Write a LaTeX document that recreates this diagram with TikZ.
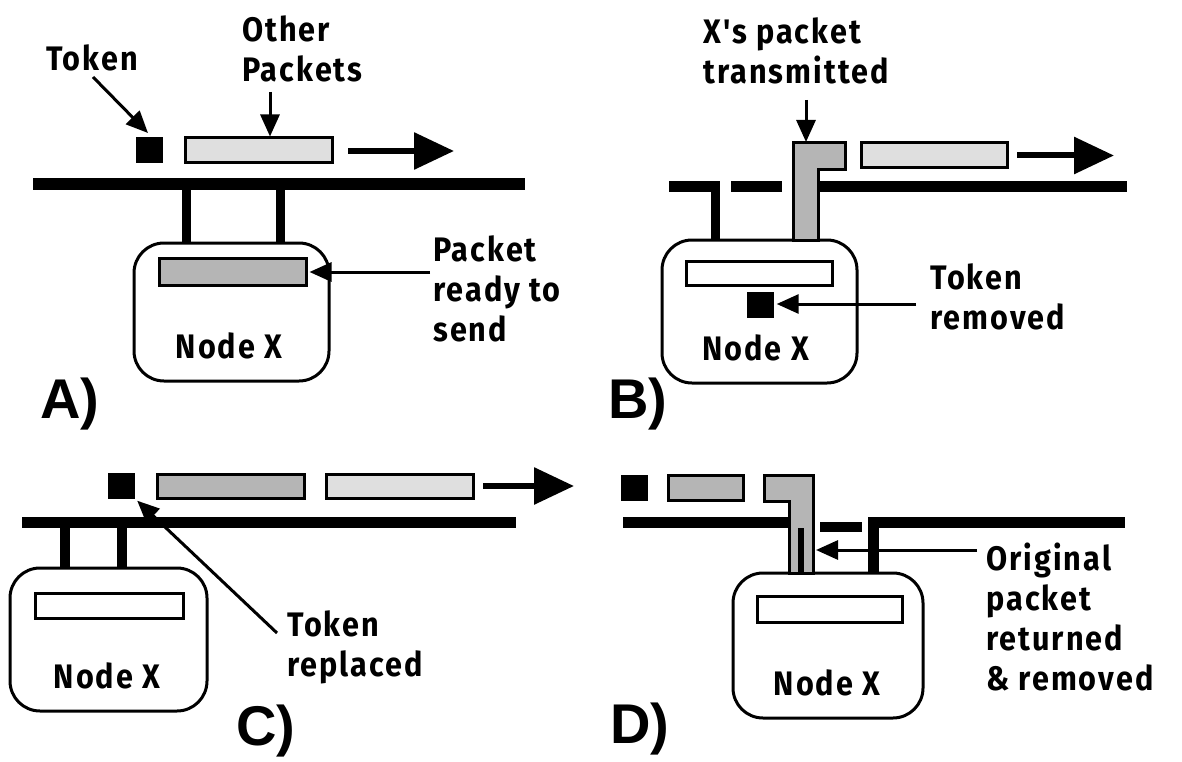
\documentclass[tikz,border=0pt]{standalone}
\usepackage{fontspec}
\newfontfamily\lblfont[FakeStretch=0.9,LetterSpace=6]{Fira Sans}
\newfontfamily\panelfont{Liberation Sans}
\usetikzlibrary{arrows.meta}
\tikzset{
  lbl/.style={inner sep=0pt, align=left, font=\lblfont\bfseries\fontsize{34}{40}\selectfont},
  panel/.style={inner sep=0pt, font=\panelfont\bfseries\fontsize{56}{60}\selectfont},
  nodebox/.style={draw, line width=3pt, rounded corners=30pt, inner sep=0pt},
  pktlight/.style={draw, line width=3pt, fill=gray!25, inner sep=0pt},
  pktdark/.style={draw, line width=3pt, fill=gray!58, inner sep=0pt},
  pktempty/.style={draw, line width=3pt, fill=white, inner sep=0pt},
  tokenbox/.style={fill=black, inner sep=0pt, minimum width=27pt, minimum height=26pt},
  moving/.style={line width=6pt, -{Triangle[length=40pt,width=36pt]}},
  callout/.style={line width=3pt, -{Triangle[length=22pt,width=19pt]}},
  wire/.style={fill=black},
}
\begin{document}
\begin{tikzpicture}[x=1pt,y=-1pt]
\useasboundingbox[fill=white] (0,0) rectangle (1182,762);

% ---------------- Panel A ----------------
\node[tokenbox] (tokA) at (149.5,150) {};
\node[pktlight, minimum width=147pt, minimum height=25pt] (othA) at (258.5,150.5) {};
\coordinate (movA0) at (348,151); \coordinate (movA1) at (454,151);
\draw[moving] (movA0) -- (movA1);
\fill[wire] (33,178) rectangle (525,190);
\fill[wire] (182,190) rectangle (191,244);
\fill[wire] (276,190) rectangle (285,244);
\node[nodebox, minimum width=195pt, minimum height=138pt] (boxA) at (231.5,312) {};
\node[pktdark, minimum width=147pt, minimum height=27pt] (xpA) at (232.5,271.5) {};
\node[lbl] (nlA) at (229,346) {Node X};
\node[lbl] (tlA) at (92,58) {Token};
\coordinate (tcA) at (93,77); \coordinate (ttA) at (148,133);
\draw[callout] (tcA) -- (ttA);
\node[lbl, anchor=north west] (olA) at (242,16) {Other\\Packets};
\coordinate (ocA) at (270,92);
\draw[callout] (ocA) -- (ocA |- othA.north);
\node[lbl, anchor=north west] (plA) at (433,235) {Packet\\ready to\\send};
\coordinate (pcA) at (430,272);
\draw[callout] (pcA) -- ([xshift=2pt]pcA -| xpA.east);
\node[panel] (pnA) at (70,404) {A)};

% ---------------- Panel B ----------------
\fill[wire] (669,181) rectangle (720,192);
\fill[wire] (711,181) rectangle (720,240);
\fill[wire] (731,181) rectangle (782,192);
\fill[wire] (818,181) rectangle (1127,192);
\node[nodebox, minimum width=195pt, minimum height=143pt] (boxB) at (759.5,311.5) {};
\draw[pktdark] (793,143) -- (845,143) -- (845,170) -- (818,170) -- (818,240) -- (793,240) -- cycle;
\coordinate (lB) at (806,142);
\node[pktempty, minimum width=146pt, minimum height=24pt] (ipB) at (759,273.5) {};
\node[tokenbox] (tokB) at (760,305) {};
\node[pktlight, minimum width=146pt, minimum height=25pt] (othB) at (934,155.5) {};
\coordinate (movB0) at (1017,155.5); \coordinate (movB1) at (1114,155.5);
\draw[moving] (movB0) -- (movB1);
\node[lbl, anchor=north west] (xlB) at (703,17) {X's packet\\transmitted};
\coordinate (xcB) at (806,100);
\draw[callout] (xcB) -- (lB);
\node[lbl, anchor=north west] (tlB) at (930,263) {Token\\removed};
\coordinate (tcB) at (916,304);
\draw[callout] (tcB) -- ([xshift=3pt]tcB -| tokB.east);
\node[lbl] (nlB) at (755.5,348) {Node X};
\node[panel] (pnB) at (638,404) {B)};

% ---------------- Panel C ----------------
\node[tokenbox] (tokC) at (121.5,485.5) {};
\node[pktdark, minimum width=147pt, minimum height=24pt] (dkC) at (230.5,486.5) {};
\node[pktlight, minimum width=147pt, minimum height=24pt] (ltC) at (399.5,486.5) {};
\coordinate (movC0) at (483,486); \coordinate (movC1) at (574,486);
\draw[moving] (movC0) -- (movC1);
\fill[wire] (22,517) rectangle (516,528);
\fill[wire] (60,528) rectangle (70,568);
\fill[wire] (117,528) rectangle (127,568);
\node[nodebox, minimum width=197pt, minimum height=143pt] (boxC) at (108.5,639.5) {};
\node[pktempty, minimum width=148pt, minimum height=25pt] (ipC) at (109,605.5) {};
\node[lbl] (nlC) at (107,676) {Node X};
\node[lbl, anchor=north west] (tlC) at (287,610) {Token\\replaced};
\coordinate (tcC) at (277,633);
\draw[callout] (tcC) -- ([shift={(2pt,-2pt)}]tokC.south east);
\node[panel] (pnC) at (266,731) {C)};

% ---------------- Panel D ----------------
\node[tokenbox] (tokD) at (634.5,488) {};
\node[pktdark, minimum width=75pt, minimum height=25pt] (dkD) at (705.5,488) {};
\fill[wire] (623,517) rectangle (790,528);
\fill[wire] (820,522) rectangle (862,532);
\fill[wire] (868,517) rectangle (879,573);
\fill[wire] (868,517) rectangle (1125,528);
\node[nodebox, minimum width=190pt, minimum height=145pt] (boxD) at (828,645.5) {};
\draw[pktdark] (764,475) -- (813,475) -- (813,573) -- (789,573) -- (789,501) -- (764,501) -- cycle;
\fill[wire] (798,528) rectangle (804,573);
\coordinate (lD) at (816,550);
\node[pktempty, minimum width=145pt, minimum height=26pt] (ipD) at (829.5,609) {};
\node[lbl] (nlD) at (827,683) {Node X};
\node[lbl, anchor=north west] (tlD) at (986,543) {Original\\packet\\returned\\\& removed};
\coordinate (tcD) at (977,550);
\draw[callout] (tcD) -- (lD);
\node[panel] (pnD) at (640,729) {D)};
\end{tikzpicture}
\end{document}
